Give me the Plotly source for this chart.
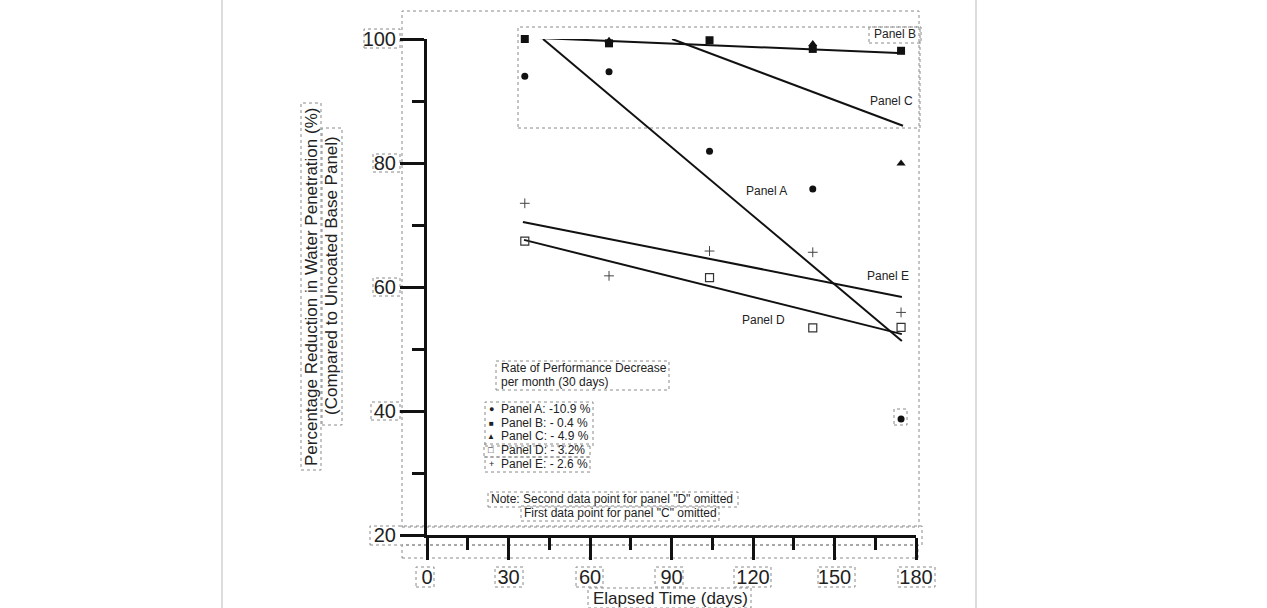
import plotly.graph_objects as go

# ---------------- data ----------------
days = [36, 67, 104, 142, 174.5]
panel_a = [94.0, 94.7, 81.9, 75.8, 38.7]
panel_b = [100.0, 99.3, 99.8, 98.4, 98.1]
panel_c_days = [67, 142, 174.5]
panel_c = [99.7, 99.2, 79.9]
panel_d_days = [36, 104, 142, 174.5]
panel_d = [67.4, 61.5, 53.4, 53.5]
panel_e = [73.5, 61.8, 65.8, 65.6, 55.9]

fit_a_x, fit_a_y = [42.7, 174.8], [100.0, 51.3]
fit_b_x, fit_b_y = [39.0, 175.6], [100.2, 97.7]
fit_c_x, fit_c_y = [90.2, 175.2], [100.0, 86.0]
fit_d_x, fit_d_y = [35.7, 174.8], [67.6, 52.4]
fit_e_x, fit_e_y = [35.3, 174.8], [70.5, 58.4]

x_ticks = [0, 30, 60, 90, 120, 150, 180]
y_ticks = [20, 40, 60, 80, 100]

label_names = ["Panel A", "Panel B", "Panel C", "Panel D", "Panel E"]
rates = ["-10.9 %", "- 0.4 %", "- 4.9 %", "- 3.2%", "- 2.6 %"]

# ---------------- layout helpers ----------------
W, H = 1267, 608
def px(x):
    return x / W
def py(y):
    return 1 - y / H

FONT = "Liberation Sans, Arial, sans-serif"
INK = "#111111"

fig = go.Figure()

def line_trace(x, y):
    fig.add_trace(go.Scatter(x=x, y=y, mode="lines",
                             line=dict(color=INK, width=2),
                             hoverinfo="skip", cliponaxis=False))

for fx, fy in [(fit_a_x, fit_a_y), (fit_b_x, fit_b_y), (fit_c_x, fit_c_y),
               (fit_d_x, fit_d_y), (fit_e_x, fit_e_y)]:
    line_trace(fx, fy)

fig.add_trace(go.Scatter(x=days, y=panel_a, mode="markers", name="Panel A",
                         marker=dict(symbol="circle", size=7, color=INK),
                         cliponaxis=False))
fig.add_trace(go.Scatter(x=days, y=panel_b, mode="markers", name="Panel B",
                         marker=dict(symbol="square", size=8, color=INK),
                         cliponaxis=False))
fig.add_trace(go.Scatter(x=panel_c_days, y=panel_c, mode="markers", name="Panel C",
                         marker=dict(symbol="triangle-up", size=8, color=INK),
                         cliponaxis=False))
fig.add_trace(go.Scatter(x=panel_d_days, y=panel_d, mode="markers", name="Panel D",
                         marker=dict(symbol="square-open", size=8, color="#333",
                                     line=dict(width=1.2, color="#333")),
                         cliponaxis=False))
fig.add_trace(go.Scatter(x=days, y=panel_e, mode="markers", name="Panel E",
                         marker=dict(symbol="cross-thin-open", size=7, color="#444",
                                     line=dict(width=1, color="#444")),
                         cliponaxis=False))

fig.update_layout(
    template="none",
    width=W, height=H,
    margin=dict(l=0, r=0, t=0, b=0, pad=0),
    paper_bgcolor="white", plot_bgcolor="white",
    showlegend=False,
    font=dict(family=FONT, color="#222"),
    xaxis=dict(domain=[px(427), px(916)], range=[0, 180], automargin=False,
               tickvals=x_ticks, ticktext=[str(v) for v in x_ticks],
               showline=True, linewidth=3, linecolor=INK,
               ticks="outside", ticklen=22, tickwidth=3, tickcolor=INK,
               minor=dict(dtick=15, tick0=0, ticks="outside", ticklen=12,
                          tickwidth=3, tickcolor=INK, showgrid=False),
               showgrid=False, zeroline=False,
               tickfont=dict(size=20, family=FONT, color="#222")),
    yaxis=dict(domain=[py(535), py(39)], range=[20, 100], automargin=False,
               tickvals=y_ticks, ticktext=[str(v) for v in y_ticks],
               showline=True, linewidth=3, linecolor=INK,
               ticks="outside", ticklen=24, tickwidth=3, tickcolor=INK,
               minor=dict(dtick=10, tick0=0, ticks="outside", ticklen=12,
                          tickwidth=3, tickcolor=INK, showgrid=False),
               showgrid=False, zeroline=False,
               tickfont=dict(size=20, family=FONT, color="#222")),
)

ann = []
def add_text(text, x, y, size=12, xanchor="center", yanchor="middle",
             xref="paper", yref="paper", angle=0):
    ann.append(dict(text=text, x=x, y=y, xref=xref, yref=yref, showarrow=False,
                    xanchor=xanchor, yanchor=yanchor, textangle=angle,
                    font=dict(size=size, family=FONT, color="#222")))

# axis titles
add_text("Percentage Reduction in Water Penetration (%)", px(311), py(287), size=17, angle=-90)
add_text("(Compared to Uncoated Base Panel)", px(331), py(276), size=17, angle=-90)
add_text("Elapsed Time (days)", px(670), py(598), size=17)

# line labels
add_text("Panel B", px(918), py(34), xanchor="right")
add_text("Panel C", 179.6, 90.0, xanchor="right", xref="x", yref="y")
add_text("Panel A", 125.1, 75.5, xref="x", yref="y")
add_text("Panel E", 169.7, 61.8, xref="x", yref="y")
add_text("Panel D", 123.7, 54.7, xref="x", yref="y")

# rate box
add_text("Rate of Performance Decrease", px(499), py(368), xanchor="left")
add_text("per month (30 days)", px(499), py(382), xanchor="left")
symbols = ["<span style='font-size:9px'>●</span>",
           "<span style='font-size:8px'>■</span>",
           "<span style='font-size:8px'>▲</span>",
           "<span style='font-size:9px'>□</span>",
           "<span style='font-size:9px'>+</span>"]
rows_y = [409, 423, 436, 450, 464]
for sym, name, rate, ry in zip(symbols, label_names, rates, rows_y):
    add_text(sym, px(491), py(ry), xanchor="center")
    add_text(f"{name}: {rate}", px(499), py(ry), xanchor="left")

add_text('Note: Second data point for panel "D" omitted', px(489), py(499), xanchor="left")
add_text('First data point for panel "C" omitted', px(620), py(513))

fig.update_layout(annotations=ann)

# dotted annotation boxes seen in the reference + page borders
boxes = [
    (402, 11, 919, 527), (518, 27, 920, 128), (370, 526, 922, 545), (402, 545, 918, 558),
    (364, 29, 400, 48), (373, 154, 400, 172), (373, 278, 400, 296), (371, 402, 400, 420),
    (416, 567, 434, 587), (495, 567, 523, 587), (576, 567, 603, 587), (655, 567, 683, 587),
    (734, 567, 771, 587), (818, 567, 855, 587), (898, 567, 935, 587),
    (588, 588, 751, 608),
    (301, 103, 321, 470), (322, 128, 342, 425),
    (496, 361, 669, 390), (485, 402, 593, 446), (484, 444, 590, 457), (485, 457, 590, 472),
    (488, 492, 738, 507), (521, 506, 719, 521), (894, 409, 907, 425),
    (869, 27, 921, 43),
]
shapes = []
for x0, y0, x1, y1 in boxes:
    shapes.append(dict(type="rect", xref="paper", yref="paper",
                       x0=px(x0), x1=px(x1), y0=py(y1), y1=py(y0),
                       line=dict(color="#8a8a8a", width=1, dash="dot"),
                       layer="below"))
for xb in (222, 976):
    shapes.append(dict(type="line", xref="paper", yref="paper",
                       x0=px(xb), x1=px(xb), y0=0, y1=1,
                       line=dict(color="#d0d0d0", width=1.5)))
fig.update_layout(shapes=shapes)

fig.write_html(
    "out.html",
    config={"displayModeBar": False},
    post_script="document.body.style.margin='0';document.body.style.overflow='hidden';",
)
